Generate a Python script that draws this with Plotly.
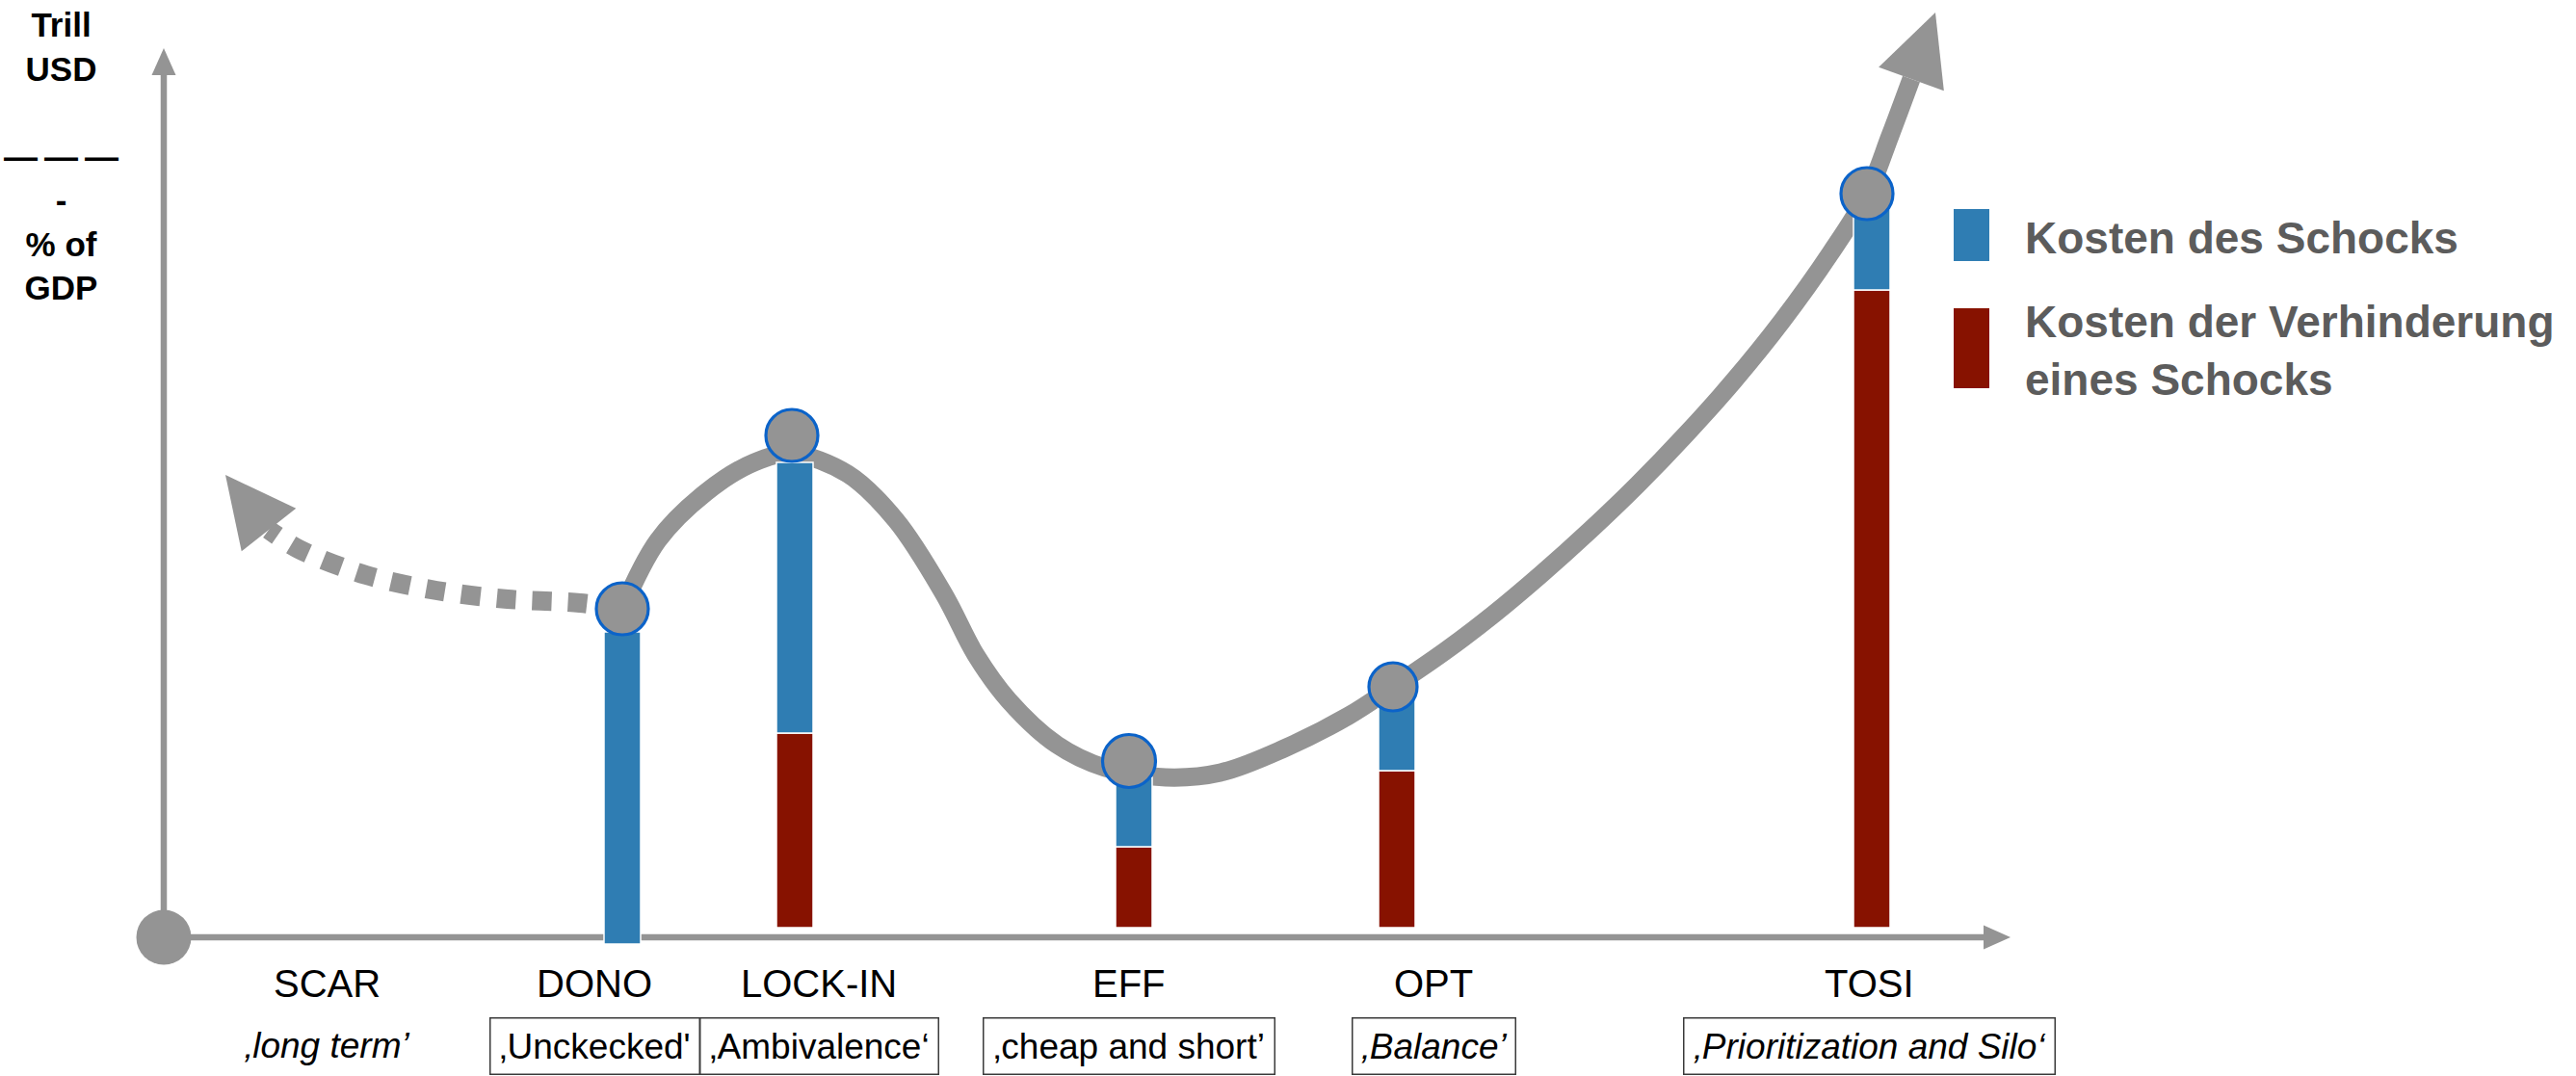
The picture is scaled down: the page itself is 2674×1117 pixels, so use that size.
import math
import plotly.graph_objects as go

# ---------------- data ----------------
categories = ["SCAR", "DONO", "LOCK-IN", "EFF", "OPT", "TOSI"]
category_x = [16.9, 44.7, 68.0, 100.2, 131.8, 177.0]
subtitles = ["‚long term’", "‚Unckecked'", "‚Ambivalence‘", "‚cheap and short’",
             "‚Balance’", "‚Prioritization and Silo‘"]
subtitle_italic = [True, False, False, False, True, True]
subtitle_boxed = [False, True, True, True, True, True]
subtitle_box_px = [0, 219, 249, 304, 171, 387]

bar_categories = ["DONO", "LOCK-IN", "EFF", "OPT", "TOSI"]
bar_x = [47.6, 65.5, 100.7, 128.0, 177.3]
prevention_cost = [0.0, 20.2, 8.4, 16.3, 66.2]   # Kosten der Verhinderung eines Schocks
shock_cost = [30.7, 28.1, 7.2, 7.8, 8.4]          # Kosten des Schocks

node_x = [47.6, 65.2, 100.2, 127.6, 176.8]
node_y = [33.1, 51.1, 17.3, 25.0, 76.2]

curve_x = [47.6, 51.3, 56.3, 61.3, 65.2, 71.0, 76.0, 81.0, 84.3, 87.7, 92.7, 97.7,
           104.0, 109.7, 116.3, 123.0, 127.6, 133.0, 138.0, 143.0, 148.0, 153.0,
           158.0, 163.0, 168.0, 173.0, 176.8, 179.2, 181.4]
curve_y = [33.1, 40.2, 45.2, 48.3, 49.2, 47.1, 42.3, 34.6, 28.3, 23.6, 19.0, 16.6,
           15.6, 16.1, 18.6, 22.0, 25.0, 28.7, 32.5, 36.7, 41.2, 46.0,
           51.2, 56.8, 63.0, 70.0, 76.1, 82.2, 88.1]
curve_tip = (183.9, 95.0)

scar_x = [47.6, 43.2, 35.7, 28.3, 21.0, 14.0, 10.9]
scar_y = [33.1, 33.7, 34.1, 35.0, 36.6, 39.3, 41.3]
scar_tip = (6.4, 47.0)

axis_x_end = 191.7
axis_y_end = 91.3
axis_level = -1.0

# ---------------- styles ----------------
W, H = 2674, 1117
X_RANGE = [-17.0, 250.4]
Y_RANGE = [-15.4, 96.3]
GRAY = "#949494"
BLUE = "#2f7db3"
RED = "#871200"
RING = "#0b63c9"
FONT = "Liberation Sans, Arial, Helvetica, sans-serif"
LEGEND_GRAY = "#5c5c5c"
AXIS_OVERHANG = 1.7
NODE_SIZES = [54, 54, 55, 50, 54]

fig = go.Figure()

# curve (solid) and dotted SCAR branch
fig.add_trace(go.Scatter(x=curve_x, y=curve_y, mode="lines",
                         line=dict(shape="spline", smoothing=1.0, color=GRAY, width=19),
                         hoverinfo="skip", zorder=0))
fig.add_trace(go.Scatter(x=scar_x, y=scar_y, mode="lines",
                         line=dict(shape="spline", smoothing=0.9, color=GRAY, width=20,
                                   dash="20px,17px"),
                         hoverinfo="skip", zorder=0))

# bars
fig.add_trace(go.Bar(x=bar_x, y=prevention_cost, base=[0] * len(bar_x), width=3.8,
                     marker=dict(color=RED, line=dict(color="white", width=1.5)),
                     name="Kosten der Verhinderung eines Schocks", zorder=1))
shock_base = [p if p > 0 else -AXIS_OVERHANG for p in prevention_cost]
shock_len = [s + (0 if p > 0 else AXIS_OVERHANG) for s, p in zip(shock_cost, prevention_cost)]
fig.add_trace(go.Bar(x=bar_x, y=shock_len, base=shock_base, width=3.8,
                     marker=dict(color=BLUE, line=dict(color="white", width=1.5)),
                     name="Kosten des Schocks", zorder=1))

# nodes on the curve
fig.add_trace(go.Scatter(x=node_x, y=node_y, mode="markers",
                         marker=dict(size=NODE_SIZES, color=GRAY, opacity=1,
                                     line=dict(color=RING, width=3.2)),
                         hoverinfo="skip", zorder=2))
# origin
fig.add_trace(go.Scatter(x=[0], y=[axis_level], mode="markers",
                         marker=dict(size=57, color=GRAY, opacity=1), hoverinfo="skip", zorder=2))

shapes = []


def head(tip, base, half):
    dx, dy = tip[0] - base[0], tip[1] - base[1]
    n = math.hypot(dx, dy)
    px, py = -dy / n * half, dx / n * half
    return (f"M {tip[0]},{tip[1]} L {base[0] + px},{base[1] + py} "
            f"L {base[0] - px},{base[1] - py} Z")


# axes
shapes.append(dict(type="line", xref="x", yref="y", x0=0, y0=axis_level, x1=axis_x_end - 2.7,
                   y1=axis_level, line=dict(color=GRAY, width=6.5), layer="below"))
shapes.append(dict(type="line", xref="x", yref="y", x0=0, y0=axis_level, x1=0,
                   y1=axis_y_end - 2.7, line=dict(color=GRAY, width=6.5), layer="below"))
shapes.append(dict(type="path", xref="x", yref="y",
                   path=head((axis_x_end, axis_level), (axis_x_end - 2.8, axis_level), 1.25),
                   fillcolor=GRAY, line=dict(width=0), layer="below"))
shapes.append(dict(type="path", xref="x", yref="y",
                   path=head((0, axis_y_end), (0, axis_y_end - 2.8), 1.25),
                   fillcolor=GRAY, line=dict(width=0), layer="below"))
# curve arrow heads
shapes.append(dict(type="path", xref="x", yref="y",
                   path=head(curve_tip, (curve_x[-1], curve_y[-1]), 3.6),
                   fillcolor=GRAY, line=dict(width=0), layer="above"))
shapes.append(dict(type="path", xref="x", yref="y",
                   path=head(scar_tip, (scar_x[-1], scar_y[-1]), 3.6),
                   fillcolor=GRAY, line=dict(width=0), layer="above"))


# legend swatches (paper coords)
def px_x(v):
    return v / W


def px_y(v):
    return 1 - v / H


shapes.append(dict(type="rect", xref="paper", yref="paper", x0=px_x(2028), x1=px_x(2065),
                   y0=px_y(271), y1=px_y(217), fillcolor=BLUE, line=dict(width=0)))
shapes.append(dict(type="rect", xref="paper", yref="paper", x0=px_x(2028), x1=px_x(2065),
                   y0=px_y(403), y1=px_y(320), fillcolor=RED, line=dict(width=0)))

annotations = []
# category labels and subtitles
for cat, cx, sub, ital, boxed, bw in zip(categories, category_x, subtitles, subtitle_italic,
                                         subtitle_boxed, subtitle_box_px):
    annotations.append(dict(x=cx, y=-5.8, xref="x", yref="y", text=cat, showarrow=False,
                            xanchor="center", yanchor="middle",
                            font=dict(family=FONT, size=40, color="black")))
    txt = f"<i>{sub}</i>" if ital else sub
    a = dict(x=cx, y=-12.25, xref="x", yref="y", text=txt, showarrow=False,
             xanchor="center", yanchor="middle",
             font=dict(family=FONT, size=37, color="black"))
    if boxed:
        a.update(width=bw - 5, height=55, bordercolor="#3a3a3a", borderwidth=1.5,
                 borderpad=1, align="center", valign="middle")
    annotations.append(a)

# y-axis caption
annotations.append(dict(x=px_x(63), y=px_y(4), xref="paper", yref="paper",
                        text="<b>Trill<br>USD<br><br>—\u2009—\u2009—<br>-<br>% of<br>GDP</b>",
                        showarrow=False, xanchor="center", yanchor="top", align="center",
                        font=dict(family=FONT, size=35, color="black")))

# legend texts
annotations.append(dict(x=px_x(2100), y=px_y(247), xref="paper", yref="paper",
                        text="<b>Kosten des Schocks</b>", showarrow=False,
                        xanchor="left", yanchor="middle", align="left",
                        font=dict(family=FONT, size=46, color=LEGEND_GRAY)))
annotations.append(dict(x=px_x(2100), y=px_y(364), xref="paper", yref="paper",
                        text="<b>Kosten der Verhinderung<br>eines Schocks</b>", showarrow=False,
                        xanchor="left", yanchor="middle", align="left",
                        font=dict(family=FONT, size=46, color=LEGEND_GRAY)))

fig.update_layout(
    width=W, height=H, autosize=False,
    margin=dict(l=0, r=0, t=0, b=0, pad=0),
    paper_bgcolor="white", plot_bgcolor="white",
    showlegend=False, barmode="overlay", hovermode=False,
    xaxis=dict(range=X_RANGE, visible=False, fixedrange=True),
    yaxis=dict(range=Y_RANGE, visible=False, fixedrange=True),
    shapes=shapes, annotations=annotations,
)

fig.write_html("out.html", config={"displayModeBar": False},
               post_script="document.body.style.margin='0px';document.body.style.overflow='hidden';")
